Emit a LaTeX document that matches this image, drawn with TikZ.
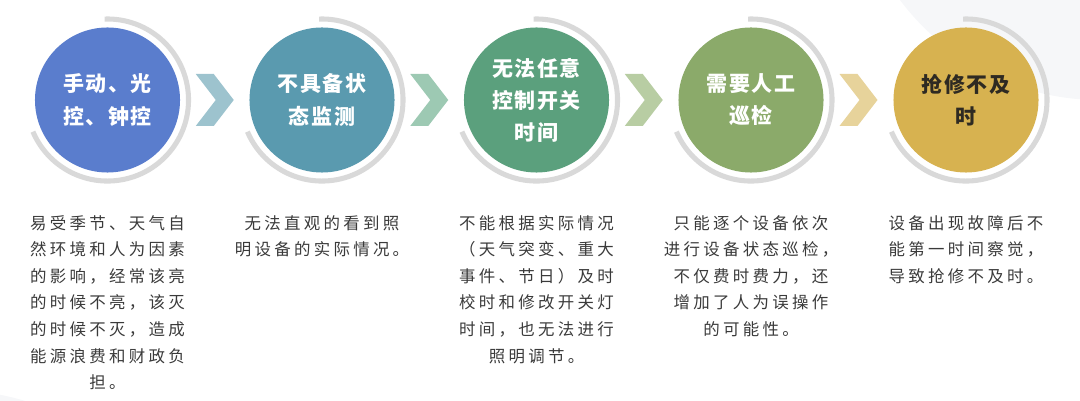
\documentclass[tikz,border=0pt]{standalone}
\usepackage{fontspec}
\usepackage{tikz}
\usetikzlibrary{positioning, calc}
\newfontfamily\cjkhead[LetterSpace=8]{Noto Sans CJK SC}
\newfontfamily\cjkbody[LetterSpace=20]{Noto Sans CJK SC}
\usepackage{xcolor}
\definecolor{cwManual}{HTML}{5A7DCD}
\definecolor{cwMonitor}{HTML}{5A9AAF}
\definecolor{cwSwitch}{HTML}{5BA07D}
\definecolor{cwPatrol}{HTML}{8BAA6A}
\definecolor{cwRepair}{HTML}{D7B250}
\definecolor{cwArrowA}{HTML}{9DC3CE}
\definecolor{cwArrowB}{HTML}{9DC9B3}
\definecolor{cwArrowC}{HTML}{B8CDA3}
\definecolor{cwArrowD}{HTML}{E7D39B}
\definecolor{cwRing}{HTML}{D9D9D9}
\definecolor{cwText}{HTML}{3A3A3A}
\definecolor{cwDark}{HTML}{2E2A22}
\definecolor{cwBack}{HTML}{F6F7F9}
\tikzset{
    % stage circles and their open rings
    stage/.style={circle,minimum size=3.625cm,inner sep=0pt,align=center,text=white,
        font=\cjkhead\bfseries\fontsize{14.9}{22.8}\selectfont},
    ring/.style={draw=cwRing,line width=3.6pt},
    % text under each stage
    desc/.style={anchor=north,align=center,inner sep=0pt,text=cwText,
        font=\cjkbody\fontsize{11.7}{18.9}\selectfont}
}

\begin{document}
\begin{tikzpicture}[x=0.025cm, y=0.025cm]
    \useasboundingbox (0,0) rectangle (1080,401);

    % Faint background shapes
    \begin{scope}
        \clip (0,0) rectangle (1080,401);
        \fill[cwBack] (1100,551) circle[radius=6.25cm];
        \fill[cwBack] (-50,-249) circle[radius=6.5cm];
    \end{scope}

    % Stages
    \node[stage, fill=cwManual] (s1) at (107.5,301) {手动、光\\控、钟控};
    \node[stage, fill=cwMonitor] (s2) at (322,301) {不具备状\\态监测};
    \node[stage, fill=cwSwitch] (s3) at (536.5,301) {无法任意\\控制开关\\时间};
    \node[stage, fill=cwPatrol] (s4) at (751,301) {需要人工\\巡检};
    \node[stage, fill=cwRepair, text=cwDark] (s5) at (966,301) {抢修不及\\时};

    % Open rings round the stages
    \draw[ring] ($(s1)+(92:81)$) arc[start angle=92, end angle=-157, radius=2.025cm];
    \draw[ring] ($(s2)+(92:81)$) arc[start angle=92, end angle=-157, radius=2.025cm];
    \draw[ring] ($(s3)+(92:81)$) arc[start angle=92, end angle=-157, radius=2.025cm];
    \draw[ring] ($(s4)+(92:81)$) arc[start angle=92, end angle=-157, radius=2.025cm];
    \draw[ring] ($(s5)+(92:81)$) arc[start angle=92, end angle=-157, radius=2.025cm];

    % Chevrons between stages
    \coordinate (m1) at ($(s1)!0.5!(s2)$);
    \coordinate (m2) at ($(s2)!0.5!(s3)$);
    \coordinate (m3) at ($(s3)!0.5!(s4)$);
    \coordinate (m4) at ($(s4)!0.5!(s5)$);
    \fill[cwArrowA] ($(m1)+(-19,26)$) -- ++(18,0) -- ($(m1)+(19,0)$) -- ($(m1)+(-1,-26)$) -- ++(-18,0) -- ($(m1)+(1,0)$) -- cycle;
    \fill[cwArrowB] ($(m2)+(-19,26)$) -- ++(18,0) -- ($(m2)+(19,0)$) -- ($(m2)+(-1,-26)$) -- ++(-18,0) -- ($(m2)+(1,0)$) -- cycle;
    \fill[cwArrowC] ($(m3)+(-19,26)$) -- ++(18,0) -- ($(m3)+(19,0)$) -- ($(m3)+(-1,-26)$) -- ++(-18,0) -- ($(m3)+(1,0)$) -- cycle;
    \fill[cwArrowD] ($(m4)+(-19,26)$) -- ++(18,0) -- ($(m4)+(19,0)$) -- ($(m4)+(-1,-26)$) -- ++(-18,0) -- ($(m4)+(1,0)$) -- cycle;

    % Descriptions
    \node[desc] (t1) at (107.5,186) {易受季节、天气自\\然环境和人为因素\\的影响，经常该亮\\的时候不亮，该灭\\的时候不灭，造成\\能源浪费和财政负\\担。};
    \node[desc] (t2) at (322,186) {无法直观的看到照\\明设备的实际情况。};
    \node[desc] (t3) at (536.5,186) {不能根据实际情况\\（天气突变、重大\\事件、节日）及时\\校时和修改开关灯\\时间，也无法进行\\照明调节。};
    \node[desc] (t4) at (751,186) {只能逐个设备依次\\进行设备状态巡检，\\不仅费时费力，还\\增加了人为误操作\\的可能性。};
    \node[desc] (t5) at (966,186) {设备出现故障后不\\能第一时间察觉，\\导致抢修不及时。};
\end{tikzpicture}
\end{document}
